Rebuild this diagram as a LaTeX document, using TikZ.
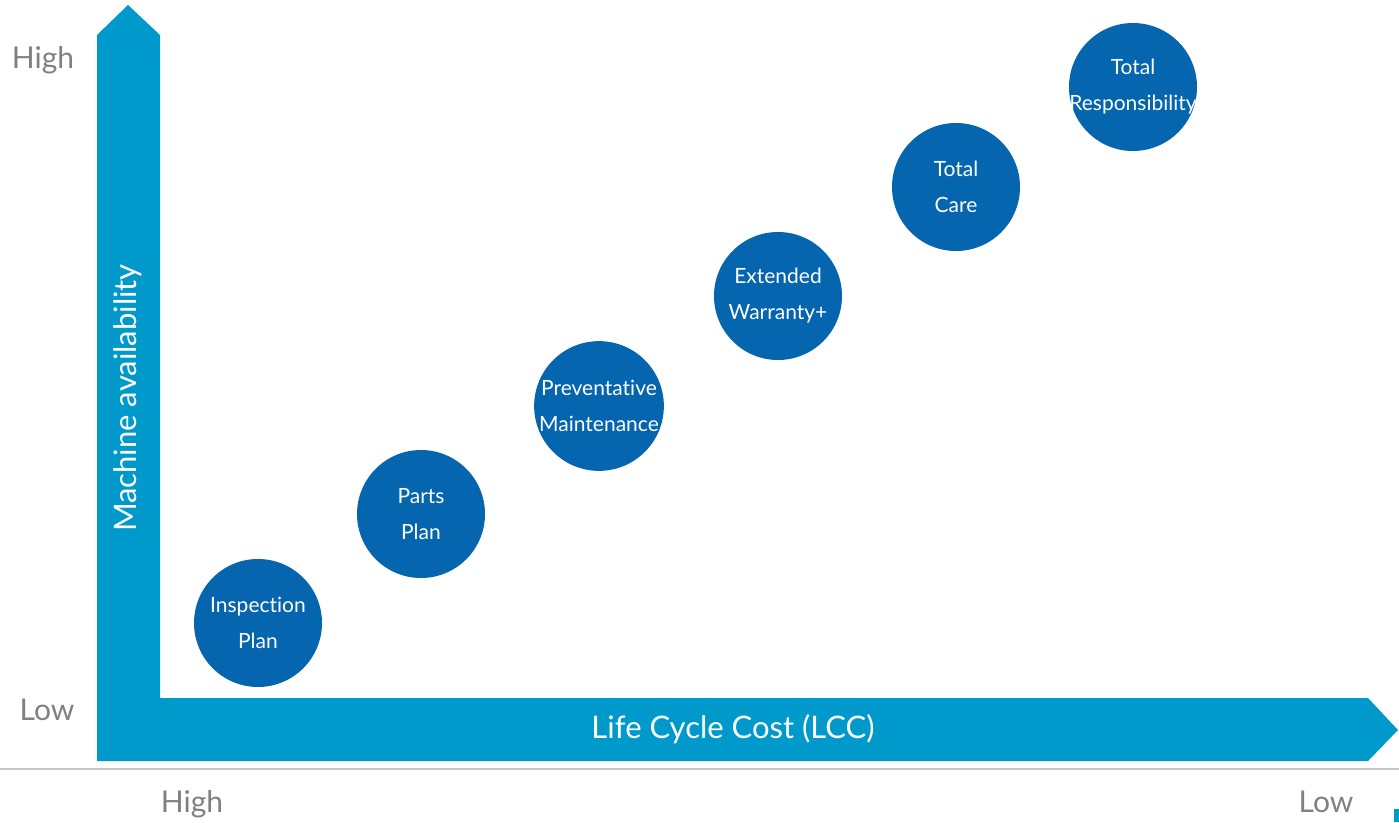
\documentclass[tikz,border=0pt]{standalone}
\usepackage{fontspec}
\setmainfont{Lato}[Ligatures={NoCommon}]
\definecolor{axisblue}{HTML}{0099CC}
\definecolor{dotblue}{HTML}{0565AF}
\definecolor{labelgray}{HTML}{808080}
\definecolor{rulegray}{HTML}{C8C8C8}
\begin{document}
\begin{tikzpicture}[x=1pt,y=-1pt,
  level/.style={circle,fill=dotblue,minimum size=128pt,inner sep=0pt,
    text=white,align=center,font=\fontsize{21}{36}\selectfont},
  endlabel/.style={text=labelgray,font=\fontsize{30}{36}\selectfont,inner sep=0pt},
  axistext/.style={text=white,font=\fontsize{31}{36}\selectfont,inner sep=0pt}]
\useasboundingbox (0,0) rectangle (1399,822);
% L-shaped axes
\fill[axisblue] (97,761) -- (97,35) -- (128,5) -- (160,35) -- (160,698)
  -- (1368,698) -- (1398,730) -- (1368,761) -- cycle;
% base rule and corner mark
\draw[rulegray,line width=2pt] (0,769) -- (1399,769);
\fill[axisblue] (1394,809) rectangle (1399,822);
% axis titles
\node[axistext,rotate=90] (ytitle) at (128,398) {Machine availability};
\node[axistext] (xtitle) at (733,729) {Life Cycle Cost (LCC)};
% scale ends
\node[endlabel] (yhigh) at (43,60) {High};
\node[endlabel] (ylow) at (47,710) {Low};
\node[endlabel] (xhigh) at (192,804) {High};
\node[endlabel] (xlow) at (1326,802) {Low};
% service levels (long words may run past the disc edge)
\node[level] (inspection) at (258,623) {Inspection\\Plan};
\node[level] (parts) at (421,514) {Parts\\Plan};
\node[level] (preventive) at (599,406) {Preventative\\Maintenance};
\node[level] (warranty) at (778,296) {Extended\\Warranty+};
\node[level] (care) at (956,187) {Total\\Care};
\node[level] (responsibility) at (1133,87) {Total\\\makebox[80pt]{Responsibility}};
\end{tikzpicture}
\end{document}
